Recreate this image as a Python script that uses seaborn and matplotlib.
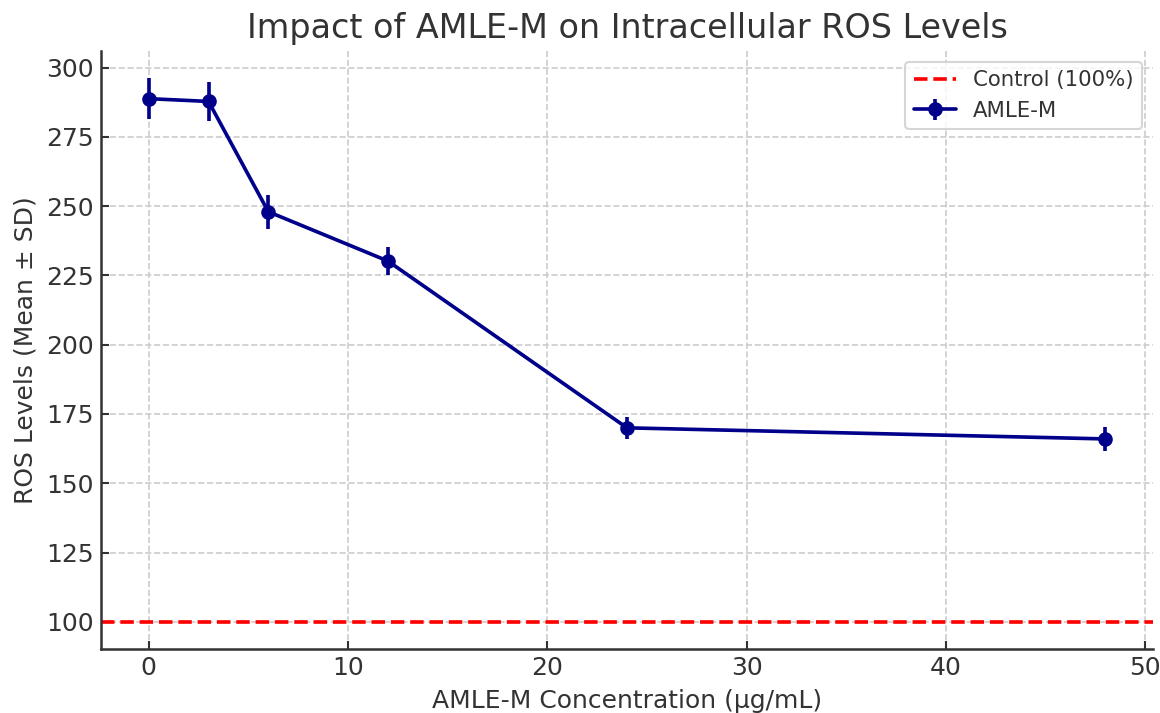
import matplotlib
matplotlib.use('Agg')
import matplotlib.pyplot as plt
import numpy as np
import seaborn as sns

# valori
concentratii = [0, 3, 6, 12, 24, 48]
ros_medie = [288.8, 287.8, 248.0, 230.2, 170.0, 166.0]
ros_sd = [7.4, 7.0, 6.2, 5.0, 4.0, 4.2]
control = 100

sns.set_theme(style='ticks')
plt.rcParams['font.family'] = ['DejaVu Sans']
plt.rcParams['text.color'] = '#333333'
plt.rcParams['axes.labelcolor'] = '#333333'
plt.rcParams['xtick.color'] = '#333333'
plt.rcParams['ytick.color'] = '#333333'

fig, ax = plt.subplots(figsize=(1160 / 150, 713 / 150), dpi=150)

ax.axhline(control, color='red', linestyle='--', linewidth=1.75, label='Control (100%)')
ax.errorbar(concentratii, ros_medie, yerr=ros_sd, fmt='-o', color='darkblue',
            linewidth=1.75, markersize=6, elinewidth=1.75, capsize=0, label='AMLE-M')

ax.set_title('Impact of AMLE-M on Intracellular ROS Levels', fontsize=16, color='#333333')
ax.set_xlabel('AMLE-M Concentration (µg/mL)', fontsize=12)
ax.set_ylabel('ROS Levels (Mean ± SD)', fontsize=12)
ax.tick_params(axis='both', labelsize=12, direction='in', length=4, width=1)
ax.grid(True, linestyle='--', color='#cccccc', linewidth=0.8)
ax.set_xticks([0, 10, 20, 30, 40, 50])
ax.set_yticks([100, 125, 150, 175, 200, 225, 250, 275, 300])
sns.despine(ax=ax)
for s in ['left', 'bottom']:
    ax.spines[s].set_color('#333333')
    ax.spines[s].set_linewidth(1.2)

leg = ax.legend(loc='upper right', fontsize=10.2, frameon=True)
leg.get_frame().set_edgecolor('#cccccc')

fig.subplots_adjust(left=0.087, right=0.994, top=0.9285, bottom=0.0898)
fig.savefig('out.png', dpi=150)
